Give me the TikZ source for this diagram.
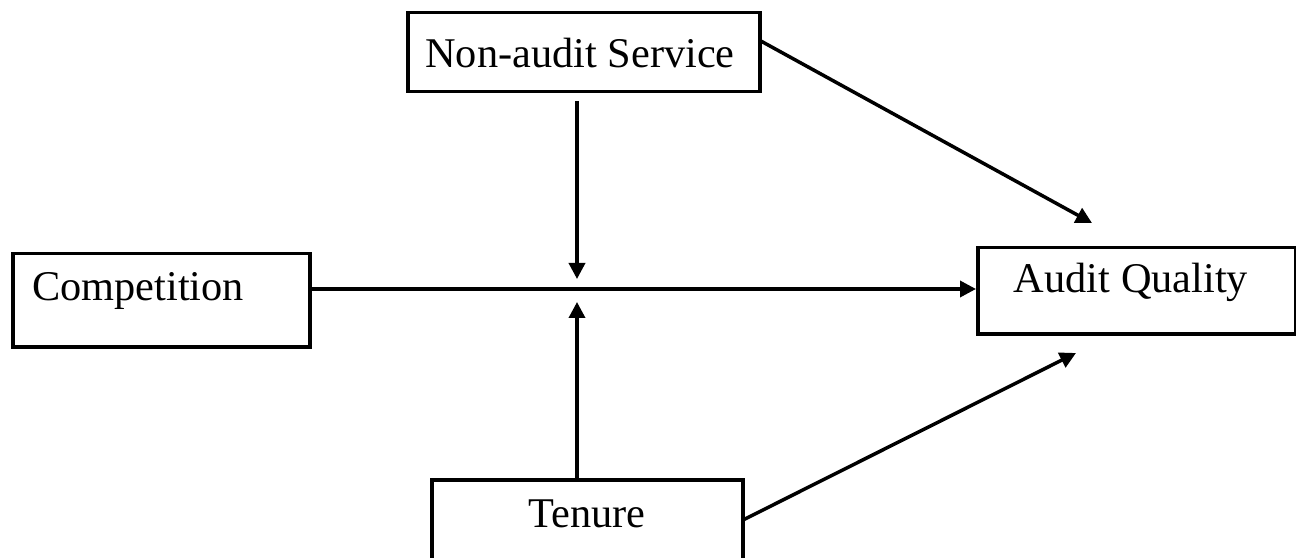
\documentclass[tikz,border=0pt]{standalone}
\usepackage{fontspec}
\setmainfont{Liberation Serif}
\usetikzlibrary{arrows.meta}
\begin{document}
\begin{tikzpicture}[x=1bp,y=-1bp,
  boxshape/.style={draw=black,line width=3.5bp,rectangle,inner sep=0pt,anchor=north west},
  lbl/.style={inner sep=0pt,font=\fontsize{42.5}{50}\selectfont},
  conn/.style={line width=3.5bp,-{Triangle[length=16bp,width=16bp]}}]
\useasboundingbox (0,0) rectangle (1296,558);
\clip (0,0) rectangle (1296,558);
% boxes
\node[boxshape,minimum width=352bp,minimum height=79bp] (nas) at (406,11) {};
\node[boxshape,minimum width=297bp,minimum height=93bp] (comp) at (11,252) {};
\node[boxshape,minimum width=318bp,minimum height=86bp] (aq) at (976,246) {};
\node[boxshape,minimum width=311bp,minimum height=160bp] (ten) at (430,478) {};
% texts
\node[lbl,anchor=base] (nast) at (580,68) {Non-audit Service};
\node[lbl,anchor=base west] (compt) at (32,301) {Competition};
\node[lbl,anchor=base] (aqt) at (1131,293) {Audit Quality};
\node[lbl,anchor=base] (tent) at (587,527) {Tenure};
% connector points
\coordinate (nasS) at (577,101);
\coordinate (modUp) at (577,279);
\coordinate (modDn) at (577,302);
\coordinate (nasE) at (759,40);
\coordinate (aqTop) at (1092,223);
\coordinate (tenE) at (743,520);
\coordinate (aqBot) at (1076,353);
% connectors
\draw[conn] (comp.east |- 0,289) -- (aq.west |- 0,289);
\draw[conn] (nasS) -- (modUp);
\draw[conn] (ten.north -| modDn) -- (modDn);
\draw[conn] (nasE) -- (aqTop);
\draw[conn] (tenE) -- (aqBot);
\end{tikzpicture}
\end{document}
